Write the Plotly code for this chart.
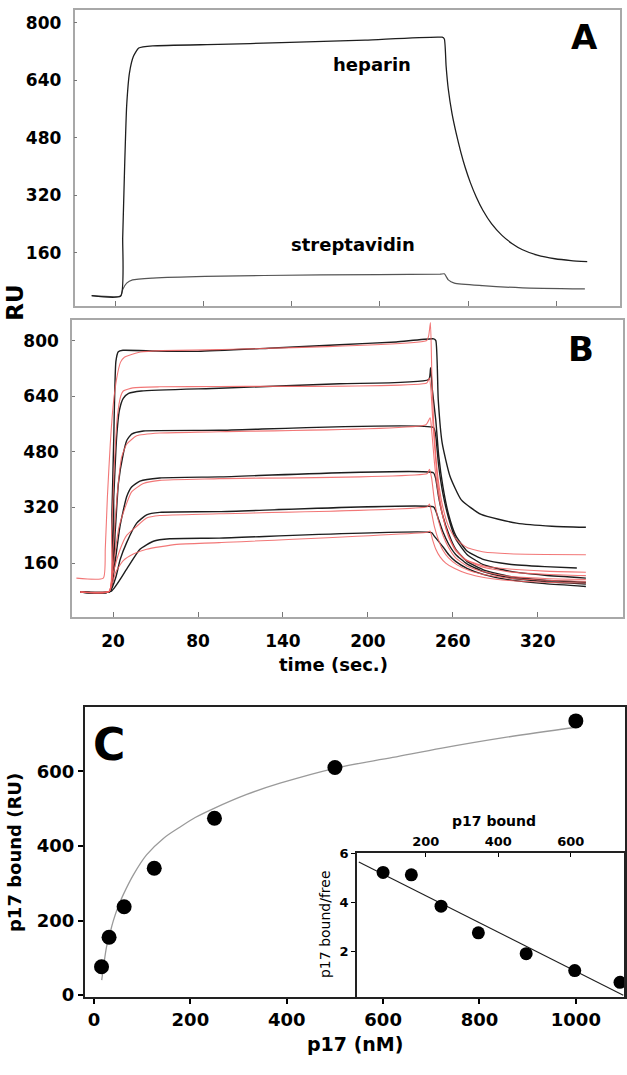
import plotly.graph_objects as go

# ---------------- Panel A : sensorgrams on heparin / streptavidin ----------------
hep_t = [3.9, 23.6, 25.0, 26.3, 27.7, 29.6, 32.3, 35.9, 45.4, 90, 133, 190, 242.3, 243.8, 245.0, 246.5, 249.0, 252.0, 255.0, 258.0, 261.5, 265.5, 270.0, 276.0, 283.0, 290.0, 297, 307.0, 319.0, 330.0, 341.0]
hep_ru = [40, 39, 203, 400, 570, 661, 707, 730, 736, 740, 745, 752, 760, 755, 680, 615, 548, 490, 440, 397, 355, 315, 278, 240, 208, 185, 168, 153, 143, 138, 135]
strep_t = [3.9, 23.6, 25.0, 27.7, 31.7, 45.4, 81, 160, 241, 243.8, 246.5, 250.6, 269.7, 297, 339.4]
strep_ru = [40, 39, 57, 75, 84, 89, 94, 98, 100, 101, 84, 75, 68, 62, 59]

# ---------------- Panel B : p17 dose series (black = data, red = fit) ----------------
blk1_t = [-3.1, 17.8, 19.2, 20.5, 22.0, 23.7, 27.0, 50, 80, 130, 180, 220, 246.5, 248.0, 249.7, 252.5, 258, 266, 280, 305, 330, 354]
blk1_ru = [77, 79, 300, 520, 740, 768, 772, 770, 769, 778, 788, 796, 805, 800, 630, 505, 410, 342, 300, 275, 266, 263]
blk2_t = [-3.1, 17.8, 20.5, 22.5, 24.5, 27.2, 31, 40, 95, 180, 243, 244.3, 245.5, 248, 250, 253, 257, 262, 270, 282, 300, 325, 347.6]
blk2_ru = [77, 79, 350, 520, 600, 634, 648, 655, 663, 676, 688, 722, 660, 570, 470, 380, 300, 240, 195, 170, 157, 150, 146]
blk3_t = [-3.1, 17.8, 21.5, 23.8, 27.2, 29.6, 33.1, 41.4, 95, 246.3, 247.8, 250, 253, 257, 262, 270, 282, 300, 325, 354]
blk3_ru = [77, 79, 250, 390, 474, 512, 531, 540, 542, 550, 530, 440, 360, 290, 230, 185, 155, 137, 125, 117]
blk4_t = [-3.1, 17.8, 21, 24.9, 29.6, 33.1, 39, 53, 95, 246.3, 247.8, 250, 253, 257, 262, 270, 282, 300, 325, 354]
blk4_ru = [77, 79, 150, 266, 351, 379, 396, 405, 408, 420, 405, 350, 295, 245, 200, 165, 140, 122, 111, 105]
blk5_t = [-3.1, 17.8, 22, 25, 29.6, 36.7, 43.7, 53, 95, 246.3, 247.8, 250, 253, 257, 262, 270, 282, 300, 325, 354]
blk5_ru = [77, 79, 120, 170, 219, 275, 299, 306, 308, 322, 312, 285, 250, 215, 185, 158, 135, 118, 107, 100]
blk6_t = [-3.1, 18.5, 29.6, 39, 48.5, 60, 95, 245, 246.5, 253.4, 257, 262, 270, 282, 300, 325, 354]
blk6_ru = [77, 79, 143, 200, 223, 230, 232, 248, 240, 205, 185, 165, 145, 127, 112, 101, 93]

red1_t = [-5.9, 13.1, 14.5, 16, 18, 20, 22.5, 25.3, 28, 31, 39.5, 55, 95, 241.6, 243.0, 244.2, 245.2, 246.5, 248, 250, 253, 257, 262, 270, 282, 300, 325, 354]
red1_ru = [117, 117, 200, 350, 500, 610, 690, 738, 752, 757, 767, 771, 774, 800, 815, 852, 700, 560, 470, 390, 320, 265, 230, 205, 192, 187, 185, 184]
red2_t = [-3.1, 17.3, 19, 21, 23, 25.4, 27.2, 34, 53, 95, 241.6, 243.5, 244.5, 246, 248, 250, 253, 257, 262, 270, 282, 300, 325, 354]
red2_ru = [77, 79, 250, 450, 580, 640, 655, 664, 667, 668, 678, 692, 660, 560, 450, 370, 295, 235, 195, 168, 152, 143, 137, 134]
red3_t = [-3.1, 17.3, 20, 23, 26, 29.6, 36.7, 53, 95, 241, 244, 245, 247, 249, 252, 256, 261, 268, 280, 300, 325, 354]
red3_ru = [77, 79, 200, 360, 464, 502, 526, 534, 538, 558, 578, 545, 450, 380, 310, 250, 205, 172, 150, 135, 128, 124]
red4_t = [-3.1, 17.3, 20, 24, 29.6, 33.1, 41.4, 53, 95, 242, 243.5, 245, 247, 250, 253, 257, 262, 270, 282, 300, 325, 354]
red4_ru = [77, 79, 150, 260, 332, 365, 389, 398, 403, 418, 430, 405, 340, 280, 240, 205, 175, 152, 135, 122, 116, 113]
red5_t = [-3.1, 17.3, 20, 25, 29.6, 36.7, 43.7, 53, 95, 242, 243.5, 245, 247, 250, 253, 257, 263, 272, 285, 305, 330, 354]
red5_ru = [77, 79, 130, 200, 240, 266, 290, 297, 302, 322, 330, 305, 265, 225, 197, 175, 155, 138, 125, 115, 110, 108]
red6_t = [-3.1, 17.3, 19, 22, 27.2, 34.3, 43.7, 65, 95, 242, 244, 245.5, 248, 251, 255, 261, 270, 283, 300, 325, 354]
red6_ru = [77, 79, 95, 135, 167, 186, 200, 214, 219, 249, 252, 230, 200, 178, 160, 145, 130, 118, 110, 105, 103]

# ---------------- Panel C : binding isotherm ----------------
conc_nM = [15.6, 31.25, 62.5, 125, 250, 500, 1000]
bound_RU = [76, 155, 237, 340, 474, 610, 735]
fit_conc = [16, 20, 26, 33, 40, 50, 61, 82, 109, 144, 178, 210, 248, 317, 386, 500, 620, 722, 850, 1000]
fit_bound = [40, 78, 129, 165, 199, 237, 270, 323, 376, 420, 450, 476, 500, 538, 568, 608, 637, 662, 690, 718]

# Scatchard inset
sc_bound = [82, 160, 242, 345, 477, 611, 736]
sc_ratio = [5.22, 5.12, 3.84, 2.75, 1.90, 1.21, 0.73]
sc_fit_bound = [15, 745]
sc_fit_ratio = [5.65, 0.2]

# tick labels
ru_ticks = [160, 320, 480, 640, 800]
time_ticks = [20, 80, 140, 200, 260, 320]
conc_ticks = [0, 200, 400, 600, 800, 1000]
bound_ticks = [0, 200, 400, 600]
sc_x_ticks = [200, 400, 600]
sc_y_ticks = [2, 4, 6]

W, H = 627, 1075
FONT = "DejaVu Sans"


def dx(a, b):
    return [a / W, b / W]


def dy(top, bottom):
    return [1 - bottom / H, 1 - top / H]


fig = go.Figure()

BLACK = "#1e1e1e"
RED = "rgba(240,95,95,0.85)"
SM = 0.5

# panel A
fig.add_trace(go.Scatter(x=strep_t, y=strep_ru, mode="lines",
                         line=dict(color="#555555", width=1.2, shape="spline", smoothing=SM),
                         xaxis="x", yaxis="y", showlegend=False))
fig.add_trace(go.Scatter(x=hep_t, y=hep_ru, mode="lines",
                         line=dict(color=BLACK, width=1.3, shape="spline", smoothing=SM),
                         xaxis="x", yaxis="y", showlegend=False))

# panel B
blacks = [(blk1_t, blk1_ru), (blk2_t, blk2_ru), (blk3_t, blk3_ru), (blk4_t, blk4_ru), (blk5_t, blk5_ru), (blk6_t, blk6_ru)]
reds = [(red1_t, red1_ru), (red2_t, red2_ru), (red3_t, red3_ru), (red4_t, red4_ru), (red5_t, red5_ru), (red6_t, red6_ru)]
for t, r in blacks:
    fig.add_trace(go.Scatter(x=t, y=r, mode="lines",
                             line=dict(color=BLACK, width=1.4, shape="spline", smoothing=SM),
                             xaxis="x2", yaxis="y2", showlegend=False))
for t, r in reds:
    fig.add_trace(go.Scatter(x=t, y=r, mode="lines",
                             line=dict(color=RED, width=1.1, shape="spline", smoothing=SM),
                             xaxis="x2", yaxis="y2", showlegend=False))

# panel C
fig.add_trace(go.Scatter(x=fit_conc, y=fit_bound, mode="lines", line=dict(color="#9a9a9a", width=1.3, shape="spline"),
                         xaxis="x3", yaxis="y3", showlegend=False))
fig.add_trace(go.Scatter(x=conc_nM, y=bound_RU, mode="markers", marker=dict(color="black", size=15),
                         xaxis="x3", yaxis="y3", showlegend=False))

# inset
fig.add_trace(go.Scatter(x=sc_fit_bound, y=sc_fit_ratio, mode="lines", line=dict(color=BLACK, width=1.1),
                         xaxis="x4", yaxis="y4", showlegend=False))
fig.add_trace(go.Scatter(x=sc_bound, y=sc_ratio, mode="markers", marker=dict(color="black", size=13),
                         xaxis="x4", yaxis="y4", showlegend=False))

GRAYLINE = "#a8a8a8"
tick_bold = dict(family=FONT, size=17, color="black", weight="bold")

fig.update_layout(
    width=W, height=H,
    margin=dict(l=0, r=0, t=0, b=0),
    paper_bgcolor="white", plot_bgcolor="white",
    xaxis=dict(domain=dx(74.5, 620), range=[-7.8, 363.3], anchor="y", tickvals=time_ticks,
               showticklabels=False, ticks="inside", ticklen=5, tickcolor="#777777",
               showline=True, linecolor=GRAYLINE, linewidth=1.5, mirror=True, showgrid=False, zeroline=False),
    yaxis=dict(domain=dy(2.7, 303), range=[12, 836.8], anchor="x", tickvals=ru_ticks,
               ticks="inside", ticklen=3, tickcolor="#777777", tickfont=tick_bold, ticklabelstandoff=8,
               showline=True, linecolor=GRAYLINE, linewidth=1.5, mirror=True, showgrid=False, zeroline=False),
    xaxis2=dict(domain=dx(72, 622.7), range=[-9, 380], anchor="y2", tickvals=time_ticks,
                ticks="inside", ticklen=5, tickcolor="#777777", tickfont=tick_bold, ticklabelstandoff=8,
                showline=True, linecolor=GRAYLINE, linewidth=1.5, mirror=True, showgrid=False, zeroline=False),
    yaxis2=dict(domain=dy(317.3, 618.5), range=[5.5, 859.5], anchor="x2", tickvals=ru_ticks,
                ticks="inside", ticklen=3, tickcolor="#777777", tickfont=tick_bold, ticklabelstandoff=8,
                showline=True, linecolor=GRAYLINE, linewidth=1.5, mirror=True, showgrid=False, zeroline=False),
    xaxis3=dict(domain=dx(85, 625), range=[-18.7, 1102], anchor="y3", tickvals=conc_ticks,
                ticks="outside", ticklen=5, tickcolor="black", tickwidth=1.5,
                tickfont=dict(family=FONT, size=18, color="black", weight="bold"),
                showline=True, linecolor="#222222", linewidth=2, mirror=True, showgrid=False, zeroline=False),
    yaxis3=dict(domain=dy(710, 1004), range=[-5, 772], anchor="x3", tickvals=bound_ticks,
                ticks="outside", ticklen=5, tickcolor="black", tickwidth=1.5,
                tickfont=dict(family=FONT, size=18, color="black", weight="bold"),
                showline=True, linecolor="#222222", linewidth=2, mirror=True, showgrid=False, zeroline=False),
    xaxis4=dict(domain=dx(357, 624), range=[10, 747], anchor="y4", side="top", tickvals=sc_x_ticks,
                ticks="inside", ticklen=4, tickcolor="black",
                tickfont=dict(family=FONT, size=13, color="black", weight="bold"),
                showline=True, linecolor="#222222", linewidth=1.5, mirror=True, showgrid=False, zeroline=False),
    yaxis4=dict(domain=dy(858.3, 1004), range=[0.13, 6.0], anchor="x4", tickvals=sc_y_ticks,
                ticks="outside", ticklen=4, tickcolor="black",
                tickfont=dict(family=FONT, size=13, color="black", weight="bold"),
                showline=True, linecolor="#222222", linewidth=1.5, mirror=True, showgrid=False, zeroline=False),
)


def ann(text, x, y, size, xref, yref, bold=True, angle=0):
    fig.add_annotation(text=text, x=x, y=y, xref=xref, yref=yref, showarrow=False,
                       textangle=angle, xanchor="center", yanchor="middle",
                       font=dict(family=FONT, size=size, color="black", weight="bold" if bold else "normal"))


ann("heparin", 194.5, 684, 18, "x", "y")
ann("streptavidin", 181.4, 183, 18, "x", "y")
ann("A", 339.4, 762, 34, "x", "y")
ann("B", 350.5, 776, 34, "x2", "y2")
ann("C", 31.8, 671, 44, "x3", "y3")
ann("RU", 15 / W, 1 - 300 / H, 23, "paper", "paper", angle=-90)
ann("time (sec.)", 333 / W, 1 - 667 / H, 18, "paper", "paper")
ann("p17 bound (RU)", 14 / W, 1 - 858 / H, 18, "paper", "paper", angle=-90)
ann("p17 (nM)", 355 / W, 1 - 1052 / H, 19, "paper", "paper")
ann("p17 bound", 493.6 / W, 1 - 826 / H, 14, "paper", "paper")
ann("p17 bound/free", 325 / W, 1 - 930 / H, 14, "paper", "paper", bold=False, angle=-90)

fig.write_html("out.html", config={"displayModeBar": False},
               post_script="document.body.style.margin='0';document.body.style.padding='0';"
                           "document.documentElement.style.overflow='hidden';")
